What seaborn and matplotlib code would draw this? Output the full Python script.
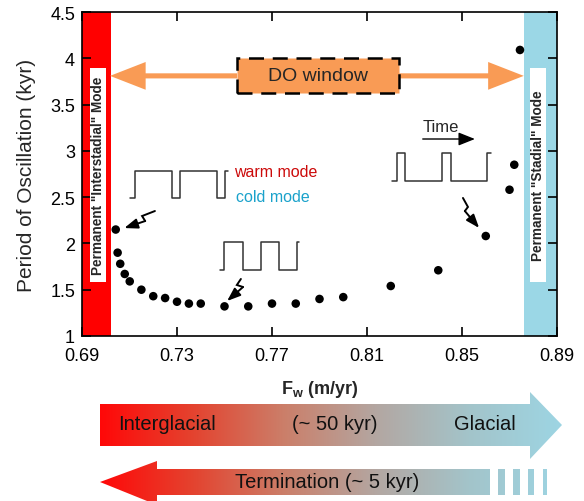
import numpy as np
import matplotlib
matplotlib.use("Agg")
import matplotlib.pyplot as plt
import seaborn as sns
from matplotlib.patches import Rectangle, PathPatch
from matplotlib.path import Path
from matplotlib.colors import LinearSegmentedColormap

# model results: oscillation period vs freshwater flux
fw = [0.7042, 0.7050, 0.7061, 0.7080, 0.7101, 0.7150, 0.7200, 0.7250, 0.7300,
      0.7350, 0.7400, 0.7500, 0.7600, 0.7700, 0.7800, 0.7900, 0.8000, 0.8200,
      0.8400, 0.8600, 0.8700, 0.8720, 0.8744]
period = [2.15, 1.90, 1.78, 1.67, 1.59, 1.50, 1.43, 1.41, 1.37, 1.35, 1.35, 1.32,
          1.32, 1.35, 1.35, 1.40, 1.42, 1.54, 1.71, 2.08, 2.58, 2.85, 4.09]

# mode limits and DO window
interstadial_edge = 0.7022
stadial_edge = 0.876
do_box = (0.7553, 0.8235)
do_y = 3.81

# square wave sketches (edges, low, high)
wave_warmcold = ([0.7102, 0.7123, 0.7279, 0.7313, 0.7468, 0.7502, 0.7515], 2.49, 2.78)
wave_mid = ([0.7481, 0.7498, 0.7578, 0.7654, 0.7729, 0.7805, 0.7814], 1.713, 2.015)
wave_stadial = ([0.8205, 0.8226, 0.8260, 0.8416, 0.8454, 0.8605, 0.8622], 2.674, 2.977)

xticks = [0.69, 0.73, 0.77, 0.81, 0.85, 0.89]
yticks = [1, 1.5, 2, 2.5, 3, 3.5, 4, 4.5]

sns.set_style("ticks")
plt.rcParams['font.family'] = ['Liberation Sans', 'DejaVu Sans']
plt.rcParams['mathtext.fontset'] = 'custom'
plt.rcParams['mathtext.rm'] = 'Liberation Sans'
plt.rcParams['mathtext.bf'] = 'Liberation Sans:bold'

orange = '#F99B55'

fig = plt.figure(figsize=(5.84, 5.02), dpi=100)
ax = fig.add_axes([0.1404, 0.3287, 0.8134, 0.6454])

ax.axvspan(0.69, interstadial_edge, color='#FF0000', lw=0, zorder=0)
ax.axvspan(stadial_edge, 0.89, color='#9BD7E6', lw=0, zorder=0)

sns.scatterplot(x=fw, y=period, color='black', s=38, edgecolor='none', ax=ax, zorder=5)

# DO window arrows + box
ax.arrow(do_box[0], do_y, interstadial_edge - do_box[0] - 0.0004, 0, width=0.055,
         head_width=0.30, head_length=0.0150, length_includes_head=True,
         color=orange, lw=0, zorder=3)
ax.arrow(do_box[1], do_y, stadial_edge - do_box[1], 0, width=0.055,
         head_width=0.30, head_length=0.0150, length_includes_head=True,
         color=orange, lw=0, zorder=3)
ax.add_patch(Rectangle((do_box[0], 3.625), do_box[1] - do_box[0], 0.378,
                       facecolor=orange, edgecolor='black', lw=1.8,
                       ls=(0, (6, 3.5)), zorder=4))
ax.text(sum(do_box) / 2, do_y, 'DO window', ha='center', va='center', fontsize=14, zorder=5)

# permanent mode labels
for x0, x1, lab in [(0.69337, 0.70011, 'Permanent "Interstadial" Mode'),
                    (0.87863, 0.88537, 'Permanent "Stadial" Mode')]:
    ax.add_patch(Rectangle((x0, 1.583), x1 - x0, 3.895 - 1.583,
                           facecolor='white', lw=0, zorder=2))
    ax.text((x0 + x1) / 2, 2.739, lab, rotation=90, ha='center', va='center',
            fontsize=9.8, fontweight='bold', zorder=3)

# square waves
for edges, lo, hi in [wave_warmcold, wave_mid, wave_stadial]:
    levels = [lo, hi, lo, hi, lo, hi, hi]
    ax.step(edges, levels, where='post', color='#333333', lw=1.1, zorder=3)

ax.text(0.7540, 2.78, 'warm mode', color='#CC0A0A', fontsize=11.5, va='center', ha='left')
ax.text(0.7550, 2.51, 'cold mode', color='#1AA2CB', fontsize=11.5, va='center', ha='left')

ax.text(0.8412, 3.26, 'Time', fontsize=12, ha='center', va='center')
ax.annotate('', xy=(0.8566, 3.128), xytext=(0.8323, 3.128),
            arrowprops=dict(arrowstyle='-|>,head_length=1.0,head_width=0.4',
                            color='black', lw=1.0))

# lightning arrows
bolts = [[(0.7207, 2.350), (0.7153, 2.296), (0.7166, 2.242), (0.7078, 2.166)],
         [(0.7569, 1.616), (0.7552, 1.551), (0.7578, 1.529), (0.7511, 1.378)],
         [(0.8504, 2.491), (0.8525, 2.394), (0.8512, 2.350), (0.8572, 2.167)]]
for b in bolts:
    xs, ys = zip(*b[:3])
    ax.plot(xs, ys, color='black', lw=1.4, solid_joinstyle='miter', zorder=4)
    ax.annotate('', xy=b[3], xytext=b[2],
                arrowprops=dict(arrowstyle='-|>,head_length=0.8,head_width=0.3',
                                color='black', lw=1.4, shrinkA=0, shrinkB=0))

ax.set_xlim(0.69, 0.89)
ax.set_ylim(1, 4.5)
ax.set_xticks(xticks)
ax.set_xticklabels([f'{t:.2f}' for t in xticks])
ax.set_yticks(yticks)
ax.set_yticklabels([f'{t:g}' for t in yticks])
ax.tick_params(direction='in', top=True, right=True, length=6.5, width=1.2,
               labelsize=13, colors='black')
ax.tick_params(axis='x', pad=8)
ax.tick_params(axis='y', pad=5)
for s in ax.spines.values():
    s.set_linewidth(1.2)
    s.set_color('black')
ax.set_ylabel('Period of Oscillation (kyr)', fontsize=15, labelpad=10)
ax.set_xlabel(r'$\mathbf{F_w}$ (m/yr)', fontsize=13, fontweight='bold', labelpad=10)

# bottom gradient arrows, in figure pixel coordinates
ov = fig.add_axes([0, 0, 1, 1])
ov.set_xlim(0, 584)
ov.set_ylim(502, 0)
ov.axis('off')

grad = LinearSegmentedColormap.from_list('glac', ['#FF0808', '#E4432F', '#CB7F6A',
                                                  '#B3A7A2', '#A3C4CA', '#9DD5E3'])
top_arrow = [(100, 405), (530, 405), (530, 393), (562, 426), (530, 460), (530, 447), (100, 447)]
bot_arrow = [(100, 483), (157, 462), (157, 470), (490, 470), (490, 496), (157, 496), (157, 506)]
dashes = [(498, 505), (513, 520), (528, 534), (543, 547)]
shapes = [Path(top_arrow + [top_arrow[0]], closed=True), Path(bot_arrow + [bot_arrow[0]], closed=True)]
for a, b in dashes:
    r = [(a, 470), (b, 470), (b, 496), (a, 496), (a, 470)]
    shapes.append(Path(r, closed=True))
clip = PathPatch(Path.make_compound_path(*shapes), facecolor='none', lw=0,
                 transform=ov.transData)
ov.add_patch(clip)
im = ov.imshow(np.linspace(0, 1, 256).reshape(1, -1), cmap=grad, aspect='auto',
               extent=(100, 562, 506, 390), interpolation='bilinear')
im.set_clip_path(clip)

ov.text(118, 425, 'Interglacial', fontsize=14.5, ha='left', va='center', color='#111111')
ov.text(335, 425, '(~ 50 kyr)', fontsize=14.5, ha='center', va='center', color='#111111')
ov.text(454, 425, 'Glacial', fontsize=14.5, ha='left', va='center', color='#111111')
ov.text(327, 483, 'Termination (~ 5 kyr)', fontsize=14.5, ha='center', va='center', color='#111111')
ov.set_xlim(0, 584)
ov.set_ylim(502, 0)

fig.savefig('out.png', dpi=100)
